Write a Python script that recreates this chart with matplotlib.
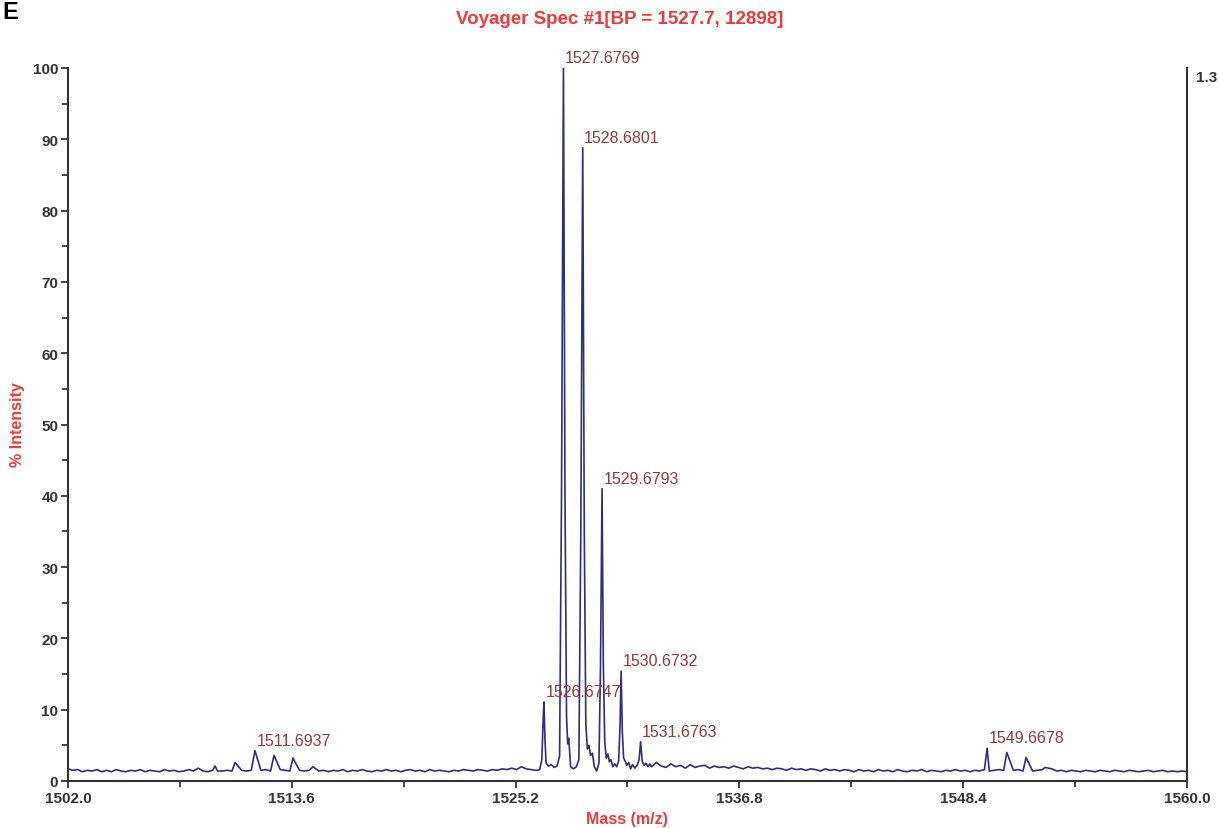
import numpy as np
import matplotlib
matplotlib.use("Agg")
import matplotlib.pyplot as plt
from matplotlib.ticker import MultipleLocator, FixedLocator, FormatStrFormatter

plt.rcParams['font.family'] = ['Liberation Sans', 'DejaVu Sans']

# baseline (noise) read every 0.25 Da, left of the main cluster: 1502.00 .. 1526.25
base_left = [1.7, 1.5, 1.6, 1.3, 1.5, 1.4, 1.6, 1.3,
             1.5, 1.3, 1.6, 1.4, 1.3, 1.5, 1.4, 1.6,
             1.3, 1.5, 1.4, 1.3, 1.6, 1.4, 1.5, 1.3,
             1.4, 1.6, 1.4, 1.8, 1.4, 1.3, 1.5, 1.4,
             1.4, 1.5, 1.4, 1.7, 1.5, 1.4, 1.5, 1.6,
             1.5, 1.6, 1.4, 1.5, 1.6, 1.5, 1.4, 1.5,
             1.5, 1.4, 1.5, 1.6, 1.4, 1.5, 1.3, 1.5,
             1.4, 1.6, 1.3, 1.5, 1.4, 1.6, 1.4, 1.3,
             1.5, 1.4, 1.6, 1.4, 1.5, 1.3, 1.5, 1.6,
             1.4, 1.5, 1.3, 1.6, 1.4, 1.5, 1.4, 1.3,
             1.5, 1.4, 1.6, 1.5, 1.4, 1.6, 1.5, 1.4,
             1.6, 1.5, 1.7, 1.6, 1.8, 1.6, 2.0, 1.7,
             1.6, 1.5]
# baseline right of the cluster: 1532.25 .. 1560.00
base_right = [2.0, 2.6, 2.1, 1.9, 2.4, 2.0, 2.2, 1.8,
              2.3, 1.9, 2.1, 2.2, 1.8, 2.1, 1.9, 2.0,
              1.8, 2.1, 1.9, 1.7, 2.0, 1.8, 1.9, 1.7,
              1.8, 1.6, 1.8, 1.7, 1.5, 1.8, 1.6, 1.7,
              1.5, 1.7, 1.6, 1.4, 1.7, 1.5, 1.6, 1.4,
              1.6, 1.5, 1.3, 1.6, 1.4, 1.5, 1.3, 1.6,
              1.4, 1.5, 1.3, 1.6, 1.4, 1.3, 1.5, 1.4,
              1.6, 1.3, 1.5, 1.4, 1.3, 1.5, 1.4, 1.6,
              1.4, 1.5, 1.3, 1.5, 1.4, 1.6, 1.4, 1.5,
              1.6, 1.5, 1.4, 1.5, 1.6, 1.4, 1.5, 1.4,
              1.5, 1.6, 1.4, 1.7, 1.4, 1.5, 1.3, 1.5,
              1.4, 1.3, 1.5, 1.4, 1.3, 1.5, 1.4, 1.3,
              1.5, 1.4, 1.3, 1.5, 1.4, 1.3, 1.4, 1.5,
              1.3, 1.4, 1.5, 1.3, 1.4, 1.3, 1.4, 1.3]

# small isotope peaks (apex only)
small_mz = [1509.62, 1510.66, 1511.69, 1512.68, 1513.66, 1514.70,
            1549.64, 1550.66, 1551.66, 1552.65]
small_int = [2.1, 2.6, 4.25, 3.6, 3.2, 2.0,
             4.6, 4.0, 3.3, 1.9]

# main isotope cluster trace, 1526.30 .. 1532.16
cluster_mz = [1526.30, 1526.45, 1526.56, 1526.62, 1526.67, 1526.72, 1526.78, 1526.90,
              1527.05, 1527.20, 1527.35, 1527.48, 1527.58, 1527.68, 1527.76, 1527.84,
              1527.90, 1527.95, 1528.00, 1528.05, 1528.20, 1528.35, 1528.48, 1528.58,
              1528.68, 1528.76, 1528.84, 1528.92, 1529.00, 1529.08, 1529.18, 1529.28,
              1529.40, 1529.52, 1529.60, 1529.68, 1529.75, 1529.82, 1529.90, 1529.98,
              1530.06, 1530.14, 1530.24, 1530.34, 1530.44, 1530.54, 1530.61, 1530.67,
              1530.73, 1530.80, 1530.88, 1530.96, 1531.06, 1531.16, 1531.26, 1531.38,
              1531.50, 1531.60, 1531.68, 1531.76, 1531.86, 1531.96, 1532.06, 1532.16]
cluster_int = [1.5, 1.6, 3.0, 8.0, 11.1, 6.0, 2.5, 2.1,
               2.3, 1.9, 2.1, 3.5, 40.0, 100.0, 40.0, 9.0,
               5.2, 6.0, 4.2, 2.0, 1.7, 2.0, 3.0, 35.0,
               88.8, 35.0, 8.0, 4.5, 5.0, 3.6, 3.9, 2.0,
               1.4, 2.5, 16.0, 41.0, 16.0, 5.5, 3.2, 3.8,
               2.7, 3.0, 2.0, 2.4, 2.0, 2.8, 7.5, 15.4,
               7.0, 3.2, 2.8, 2.2, 2.6, 1.7, 2.3, 1.8,
               2.2, 3.0, 5.5, 2.8, 2.2, 2.5, 2.0, 2.4]

label_mz = [1511.6937, 1526.6747, 1527.6769, 1528.6801, 1529.6793,
            1530.6732, 1531.6763, 1549.6678]
label_int = [4.25, 11.1, 100.0, 88.8, 41.0, 15.4, 5.5, 4.6]

xticks = [1502.0, 1513.6, 1525.2, 1536.8, 1548.4, 1560.0]

# assemble the trace
left_mz = 1502.0 + 0.25 * np.arange(len(base_left))
right_mz = 1532.25 + 0.25 * np.arange(len(base_right))
b_mz = np.concatenate([left_mz, right_mz])
b_int = np.concatenate([base_left, base_right])
keep = np.min(np.abs(b_mz[:, None] - np.array(small_mz)[None, :]), axis=1) > 0.1
mz = np.concatenate([b_mz[keep], small_mz, cluster_mz])
inten = np.concatenate([b_int[keep], small_int, cluster_int])
order = np.argsort(mz)
mz, inten = mz[order], inten[order]

dark = "#333333"
red = "#ee3a3a"
brown = "#8e3b3b"
navy = "#2b2f7c"

fig = plt.figure(figsize=(12.19, 8.29), dpi=100)
ax = fig.add_axes([68 / 1219, 1 - 782 / 829, (1187 - 68) / 1219, (782 - 69) / 829])
ax.plot(mz, inten, color=navy, lw=1.2)

for m, h in zip(label_mz, label_int):
    ax.annotate("%.4f" % m, (m, h), xytext=(1, 2), textcoords="offset points",
                ha="left", va="bottom", color=brown, fontsize=11.5)

ax.set_xlim(1502, 1560)
ax.set_ylim(0, 100)
ax.xaxis.set_major_locator(FixedLocator(xticks))
ax.xaxis.set_minor_locator(FixedLocator([x + 5.8 for x in xticks[:-1]]))
ax.xaxis.set_major_formatter(FormatStrFormatter("%.1f"))
ax.yaxis.set_major_locator(MultipleLocator(10))
ax.yaxis.set_minor_locator(MultipleLocator(5))

ax.spines['top'].set_visible(False)
for s in ['left', 'bottom', 'right']:
    ax.spines[s].set_color(dark)
    ax.spines[s].set_linewidth(1.5)

ax.tick_params(which="major", direction="out", length=5, width=1.3, color=dark,
               labelsize=11, labelcolor=dark, pad=2)
ax.tick_params(which="minor", direction="out", length=4, width=1.3, color=dark)
ax.tick_params(axis="y", which="both", right=False)
for lab in ax.get_xticklabels() + ax.get_yticklabels():
    lab.set_fontweight("bold")

fig.text(0.508, 1 - 20 / 829, "Voyager Spec #1[BP = 1527.7, 12898]", ha="center",
         va="center", color=red, fontsize=13.5, fontweight="bold")
fig.text(627 / 1219, 1 - 820 / 829, "Mass (m/z)", ha="center", va="center",
         color=red, fontsize=11.5, fontweight="bold")
fig.text(18 / 1219, 1 - 425 / 829, "% Intensity", ha="center", va="center",
         rotation=90, color=red, fontsize=11.5, fontweight="bold")
fig.text(0.002, 0.999, "E", ha="left", va="top", fontsize=17, fontweight="bold")
fig.text(1196 / 1219, 1 - 78 / 829, "1.3", ha="left", va="center", color=dark,
         fontsize=11, fontweight="bold")

fig.savefig("out.png", dpi=100)
